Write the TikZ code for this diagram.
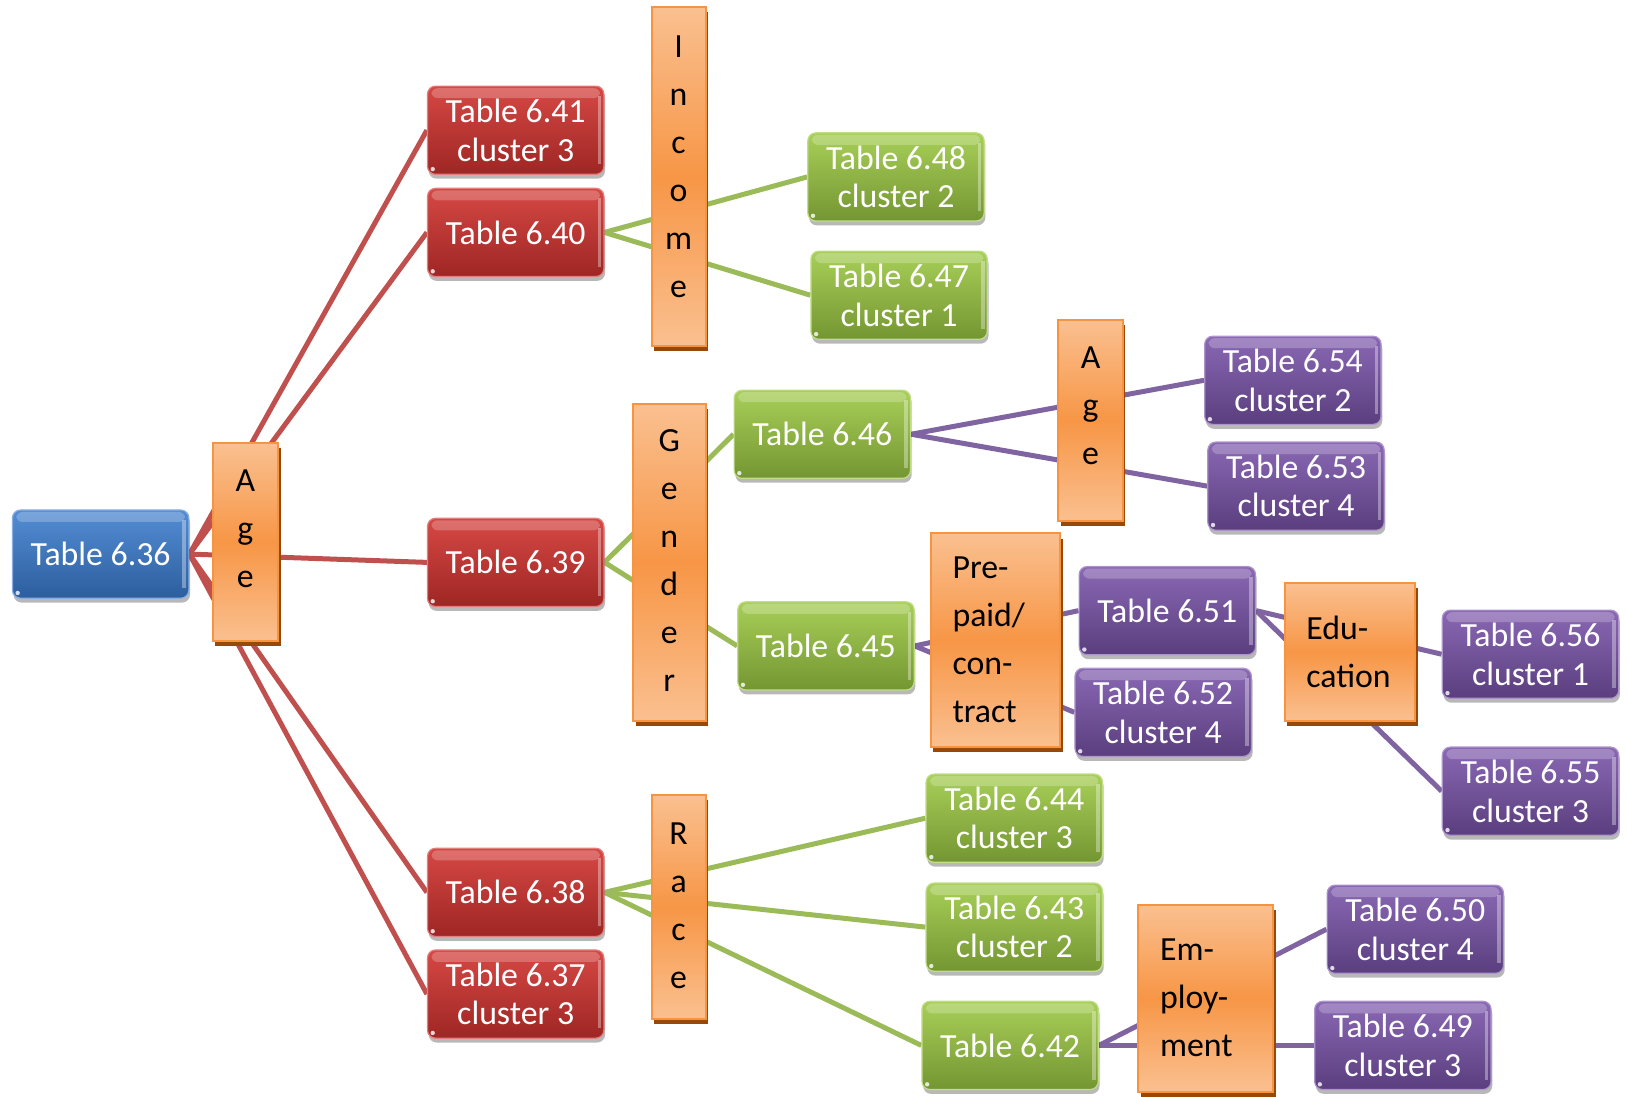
\documentclass[tikz,border=0pt]{standalone}
\usepackage{fontspec}
\setmainfont{Carlito}
\usetikzlibrary{shadows,backgrounds}

% box colours (top / bottom of the vertical gradient)
\definecolor{blueTop}{RGB}{84,141,212}
\definecolor{blueBot}{RGB}{44,94,158}
\definecolor{redTop}{RGB}{214,72,68}
\definecolor{redBot}{RGB}{158,38,36}
\definecolor{greenTop}{RGB}{168,207,88}
\definecolor{greenBot}{RGB}{116,150,50}
\definecolor{purpleTop}{RGB}{138,104,180}
\definecolor{purpleBot}{RGB}{90,62,126}
% variable labels
\definecolor{orgLight}{RGB}{250,192,144}
\definecolor{orgMid}{RGB}{247,150,70}
\definecolor{orgEdge}{RGB}{246,148,66}
\definecolor{orgShadow}{RGB}{152,72,7}
% connectors
\definecolor{lnRed}{RGB}{192,80,77}
\definecolor{lnGreen}{RGB}{155,187,89}
\definecolor{lnPurple}{RGB}{128,100,162}

\newcommand\pxu{0.5188pt}
\newcommand\boxfont{\fontsize{16.9pt}{19.2pt}\selectfont}
\newcommand\labfont{\fontsize{16.9pt}{24pt}\selectfont}
% letters stacked vertically, lifted by #1
\newcommand\vstack[2]{\raisebox{#1}[\height][\depth]{\begin{tabular}{@{}c@{}}#2\end{tabular}}}

\tikzset{
  tbox/.style={rectangle, rounded corners=4pt,
    minimum width=170*\pxu, minimum height=85*\pxu, inner sep=0pt,
    align=center, text=white, font=\boxfont,
    top color=#1Top, bottom color=#1Bot, draw=#1Top!70!white, line width=0.6pt,
    drop shadow={shadow xshift=0.6pt, shadow yshift=-2.2pt, opacity=0.28, fill=black},
    path picture={
      \fill[white, opacity=0.22, rounded corners=3pt]
        ([xshift=2pt,yshift=-1pt]path picture bounding box.north west) rectangle
        ([xshift=-2pt,yshift=-6pt]path picture bounding box.north east);
      \fill[white, opacity=0.35, sharp corners]
        ([xshift=-3.2pt,yshift=-5pt]path picture bounding box.north east) rectangle
        ([xshift=-1.4pt,yshift=5pt]path picture bounding box.south east);
      \fill[white, opacity=0.8]
        ([xshift=2.6pt,yshift=2.6pt]path picture bounding box.south west) circle (1.1pt);
    }},
  lab/.style={rectangle, inner sep=0pt, font=\labfont, text=black,
    top color=orgLight, bottom color=orgLight, middle color=orgMid,
    draw=orgEdge, line width=1pt,
    drop shadow={shadow xshift=1.3pt, shadow yshift=-2.6pt, opacity=1, fill=orgShadow}},
  labtext/.style={lab, align=left, inner xsep=21*\pxu},
  link/.style={line width=2.5pt, draw=#1}
}

\begin{document}
\begin{tikzpicture}[x=0.5188pt, y=-0.5188pt]
\useasboundingbox (0,0) rectangle (1568,1057);

% variable labels
\node[lab, minimum width=63*\pxu, minimum height=191*\pxu] (ageA) at (236.5,522.5) {\vstack{6.2pt}{A\\g\\e}};
\node[lab, minimum width=52*\pxu, minimum height=326*\pxu] (income) at (654,170) {\vstack{4.2pt}{I\\n\\c\\o\\m\\e}};
\node[lab, minimum width=70*\pxu, minimum height=306*\pxu] (gender) at (645,542) {\vstack{0pt}{G\\e\\n\\d\\e\\r}};
\node[lab, minimum width=52*\pxu, minimum height=216*\pxu] (race) at (654,874) {\vstack{0pt}{R\\a\\c\\e}};
\node[lab, minimum width=62*\pxu, minimum height=194*\pxu] (ageB) at (1051,405) {\vstack{6.7pt}{A\\g\\e}};
\node[labtext, text width=83*\pxu, minimum height=206*\pxu] (prepaid) at (959.5,617) {Pre-\\paid/\\con-\\tract};
\node[labtext, text width=84*\pxu, minimum height=133*\pxu] (educ) at (1301,628.5) {Edu-\\cation};
\node[labtext, text width=88*\pxu, minimum height=180*\pxu] (employ) at (1162,962) {Em-\\ploy-\\ment};

% tables
\node[tbox=blue] (t36) at (97,534) {Table 6.36};
\node[tbox=red] (t41) at (497,125.5) {Table 6.41\\cluster 3};
\node[tbox=red] (t40) at (497,224) {Table 6.40};
\node[tbox=red] (t39) at (497,542) {Table 6.39};
\node[tbox=red] (t38) at (497,860) {Table 6.38};
\node[tbox=red] (t37) at (497,958) {Table 6.37\\cluster 3};
\node[tbox=green] (t48) at (863.5,170.5) {Table 6.48\\cluster 2};
\node[tbox=green] (t47) at (866.5,284.5) {Table 6.47\\cluster 1};
\node[tbox=green] (t46) at (792.5,418.5) {Table 6.46};
\node[tbox=green] (t45) at (796,622.5) {Table 6.45};
\node[tbox=green] (t44) at (977.5,788.5) {Table 6.44\\cluster 3};
\node[tbox=green] (t43) at (977.5,893.5) {Table 6.43\\cluster 2};
\node[tbox=green] (t42) at (973.5,1007.5) {Table 6.42};
\node[tbox=purple] (t54) at (1246,366.5) {Table 6.54\\cluster 2};
\node[tbox=purple] (t53) at (1249,468.5) {Table 6.53\\cluster 4};
\node[tbox=purple] (t51) at (1125,588.5) {Table 6.51};
\node[tbox=purple] (t52) at (1121,686.5) {Table 6.52\\cluster 4};
\node[tbox=purple] (t56) at (1475,630.5) {Table 6.56\\cluster 1};
\node[tbox=purple] (t55) at (1475,762.5) {Table 6.55\\cluster 3};
\node[tbox=purple] (t50) at (1364,895.5) {Table 6.50\\cluster 4};
\node[tbox=purple] (t49) at (1352,1007.5) {Table 6.49\\cluster 3};

% connectors, behind everything
\begin{scope}[on background layer]
  \draw[link=lnRed] (t36.east) -- (t41.west);
  \draw[link=lnRed] (t36.east) -- (t40.west);
  \draw[link=lnRed] (t36.east) -- (t39.west);
  \draw[link=lnRed] (t36.east) -- (t38.west);
  \draw[link=lnRed] (t36.east) -- (t37.west);
  \draw[link=lnGreen] (t40.east) -- (t48.west);
  \draw[link=lnGreen] (t40.east) -- (t47.west);
  \draw[link=lnGreen] (t39.east) -- (t46.west);
  \draw[link=lnGreen] (t39.east) -- (t45.west);
  \draw[link=lnGreen] (t38.east) -- (t44.west);
  \draw[link=lnGreen] (t38.east) -- (t43.west);
  \draw[link=lnGreen] (t38.east) -- (t42.west);
  \draw[link=lnPurple] (t46.east) -- (t54.west);
  \draw[link=lnPurple] (t46.east) -- (t53.west);
  \draw[link=lnPurple] (t45.east) -- (t51.west);
  \draw[link=lnPurple] (t45.east) -- (t52.west);
  \draw[link=lnPurple] (t51.east) -- (t56.west);
  \draw[link=lnPurple] (t51.east) -- (t55.west);
  \draw[link=lnPurple] (t42.east) -- (t50.west);
  \draw[link=lnPurple] (t42.east) -- (t49.west);
\end{scope}
\end{tikzpicture}
\end{document}
